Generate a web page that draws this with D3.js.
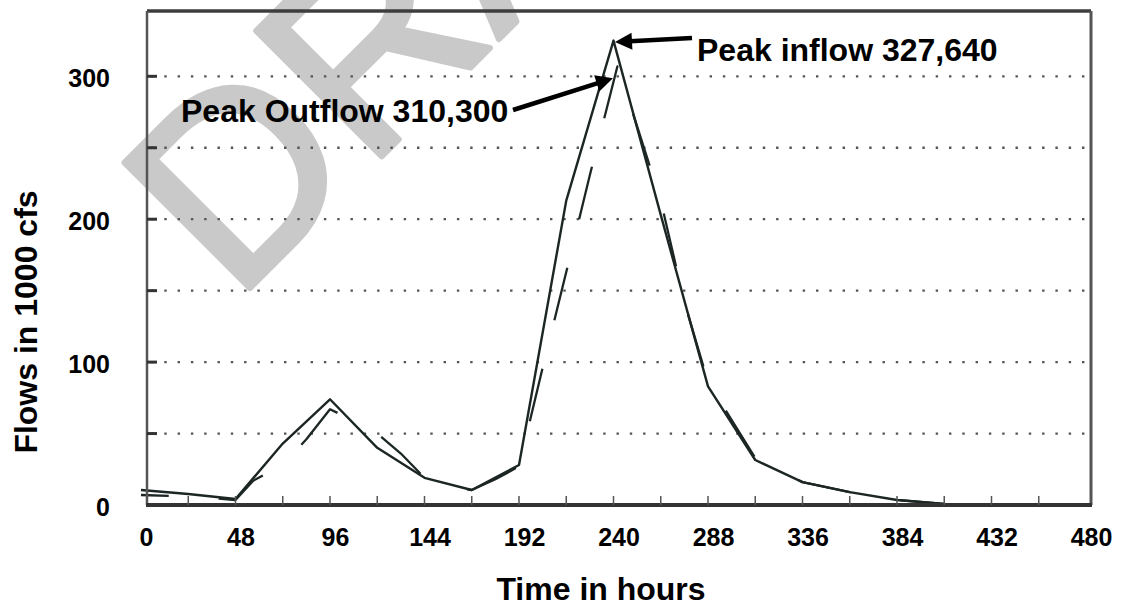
<!DOCTYPE html>
<html><head><meta charset="utf-8">
<script src="https://cdn.jsdelivr.net/npm/d3@7"></script>
<style>
html,body{margin:0;padding:0;background:#fff;}
svg{display:block;}
text{font-family:"Liberation Sans",Arial,Helvetica,sans-serif;}
</style></head><body>
<svg id="chart" width="1129" height="606"></svg>
<script>
// ---- data ----
const inflowHours = [0,24,48,72,96,120,144,168,192,216,240,264,288,312,336,360,384,408,432];
const inflow      = [10.5,7.7,4.2,43,74,40,19,10.5,28,213,325,203,83,31.5,16,9,3.5,0.8,0.2];
const outflowHours = [0,24,48,57,72,84,96,108,120,132,144,156,168,180,192,204,216,228,242,252,264,276,288,312,336,360,384,408,432];
const outflow      = [7,6,3.5,17,28,46,67,59,50,36,19,13,10.5,18,27,96,163,231,307,265,213,142,86,33,16,9,3.5,0.8,0.2];
const xTickLabels = [0,48,96,144,192,240,288,336,384,432,480];
const xMinorTicks = [24,48,72,96,120,144,168,192,216,240,264,288,312,336,360,384,408,432,456];
const yTickLabels = [0,100,200,300];
const gridValues  = [50,100,150,200,250,300];
const peakInflow  = {t:240, v:325, label:"Peak inflow 327,640"};
const peakOutflow = {t:242, v:307, label:"Peak Outflow 310,300"};

// ---- layout ----
const svg = d3.select("#chart");
const frame = {left:147, right:1091, top:11, bottom:505};
const x = d3.scaleLinear().domain([0,480]).range([141,1086]);
const y = d3.scaleLinear().domain([0,345]).range([505,12]);
const ink = "#1c2624";

svg.append("rect").attr("width",1129).attr("height",606).attr("fill","#fff");

// watermark
svg.append("text")
  .attr("transform","translate(235,303) rotate(-45)")
  .attr("font-size",258).attr("fill","#c9c9c9")
  .attr("stroke","#c9c9c9").attr("stroke-width",6).attr("stroke-linejoin","round")
  .text("DRAFT");

// dotted gridlines
svg.append("g").selectAll("line").data(gridValues).join("line")
  .attr("x1",frame.left+4).attr("x2",frame.right-3)
  .attr("y1",d=>y(d)).attr("y2",d=>y(d))
  .attr("stroke","#555").attr("stroke-width",2.3)
  .attr("stroke-dasharray","2.4,10.9");

// series
const lineGen = d3.line().x(d=>x(d[0])).y(d=>y(d[1]));
const inData = inflowHours.map((h,i)=>[h,inflow[i]]);
const outData = outflowHours.map((h,i)=>[h,outflow[i]]);

const outPath = svg.append("path").datum(outData)
  .attr("d",lineGen).attr("fill","none")
  .attr("stroke",ink).attr("stroke-width",2.3)
  .attr("stroke-linejoin","round");

// phase the dash pattern so a dash starts on the rising limb like the reference
(function(){
  const node = outPath.node();
  const total = node.getTotalLength();
  const targetX = x(197.5);
  let lo=0, hi=total;
  for(let k=0;k<40;k++){ const m=(lo+hi)/2; if(node.getPointAtLength(m).x<targetX) lo=m; else hi=m; }
  const period = 104;
  outPath.attr("stroke-dasharray","54,50")
         .attr("stroke-dashoffset", period - (lo % period));
})();

svg.append("path").datum(inData)
  .attr("d",lineGen).attr("fill","none")
  .attr("stroke",ink).attr("stroke-width",2.4)
  .attr("stroke-linejoin","round");

// frame
svg.append("line").attr("x1",frame.left).attr("x2",frame.right).attr("y1",frame.top).attr("y2",frame.top)
  .attr("stroke","#3d3d3d").attr("stroke-width",3.5);
svg.append("line").attr("x1",frame.left).attr("x2",frame.left).attr("y1",frame.top).attr("y2",frame.bottom)
  .attr("stroke","#555").attr("stroke-width",2.5);
svg.append("line").attr("x1",frame.right).attr("x2",frame.right).attr("y1",frame.top).attr("y2",frame.bottom)
  .attr("stroke","#555").attr("stroke-width",3);
svg.append("line").attr("x1",frame.left-1).attr("x2",frame.right+1).attr("y1",frame.bottom).attr("y2",frame.bottom)
  .attr("stroke","#333").attr("stroke-width",4);

// y tick marks (inside)
svg.append("g").selectAll("line").data(gridValues).join("line")
  .attr("x1",frame.left).attr("x2",frame.left+10)
  .attr("y1",d=>y(d)).attr("y2",d=>y(d))
  .attr("stroke","#333").attr("stroke-width",3);

// x minor ticks (inside)
svg.append("g").selectAll("line").data(xMinorTicks).join("line")
  .attr("x1",d=>x(d)).attr("x2",d=>x(d))
  .attr("y1",frame.bottom).attr("y2",frame.bottom-9)
  .attr("stroke","#555").attr("stroke-width",1.5);

// tick labels via axes
const yAxis = svg.append("g").attr("transform","translate(110,2)")
  .call(d3.axisLeft(y).tickValues(yTickLabels).tickSize(0).tickPadding(0));
yAxis.select(".domain").remove();
yAxis.selectAll("text").attr("font-size",25).attr("font-weight","bold").attr("fill","#000")
  .attr("font-family",'"Liberation Sans",Arial,sans-serif');

const xAxis = svg.append("g").attr("transform","translate(5,528)")
  .call(d3.axisBottom(x).tickValues(xTickLabels).tickSize(0).tickPadding(0));
xAxis.select(".domain").remove();
xAxis.selectAll("text").attr("font-size",25).attr("font-weight","bold").attr("fill","#000")
  .attr("font-family",'"Liberation Sans",Arial,sans-serif');

// axis titles
svg.append("text").attr("transform","translate(37,322) rotate(-90)")
  .attr("text-anchor","middle").attr("font-size",32).attr("font-weight","bold")
  .text("Flows in 1000 cfs");
svg.append("text").attr("x",601).attr("y",600)
  .attr("text-anchor","middle").attr("font-size",32).attr("font-weight","bold")
  .text("Time in hours");

// annotations
function arrow(from, tip, headLen, headHalf, width){
  const dx=tip[0]-from[0], dy=tip[1]-from[1], L=Math.hypot(dx,dy);
  const ux=dx/L, uy=dy/L, px=-uy, py=ux;
  const bx=tip[0]-ux*headLen, by=tip[1]-uy*headLen;
  svg.append("line").attr("x1",from[0]).attr("y1",from[1]).attr("x2",bx+ux*2).attr("y2",by+uy*2)
    .attr("stroke","#000").attr("stroke-width",width);
  svg.append("path").attr("d",`M${tip[0]},${tip[1]}L${bx+px*headHalf},${by+py*headHalf}L${bx-px*headHalf},${by-py*headHalf}Z`)
    .attr("fill","#000");
}
svg.append("text").attr("x",697).attr("y",61).attr("font-size",32).attr("font-weight","bold")
  .text(peakInflow.label);
arrow([692,38],[x(peakInflow.t)+1.5, y(peakInflow.v)+1.5],17,8.5,4.5);

svg.append("text").attr("x",181).attr("y",122).attr("font-size",32).attr("font-weight","bold")
  .text(peakOutflow.label);
arrow([513,110],[x(peakOutflow.t)-4.5, y(peakOutflow.v)+12],17,8.5,4.5);
</script>
</body></html>
